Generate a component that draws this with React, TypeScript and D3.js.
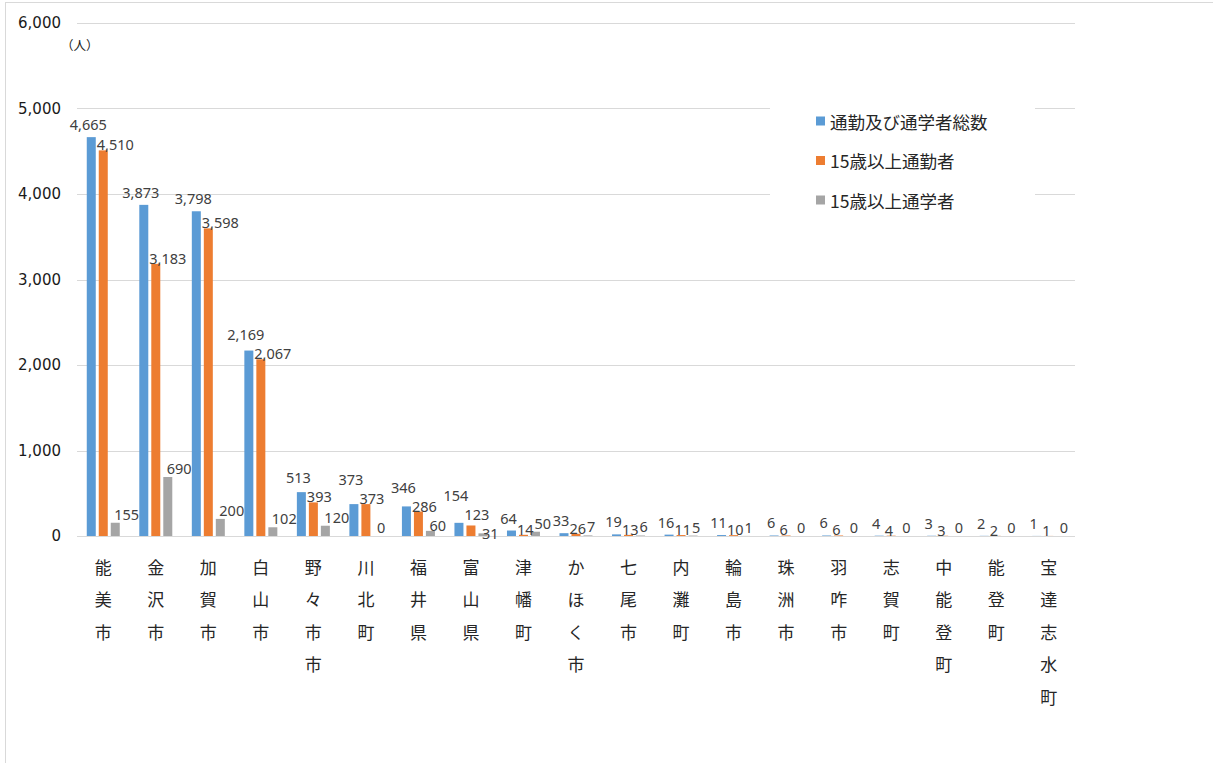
import React from 'react';
import * as d3 from 'd3';

// Commuters and students by destination municipality
const categories = [
  '能美市', '金沢市', '加賀市', '白山市', '野々市市', '川北町', '福井県', '富山県', '津幡町',
  'かほく市', '七尾市', '内灘町', '輪島市', '珠洲市', '羽咋市', '志賀町', '中能登町', '能登町', '宝達志水町',
];
const totalValues = [4665, 3873, 3798, 2169, 513, 373, 346, 154, 64, 33, 19, 16, 11, 6, 6, 4, 3, 2, 1];
const workerValues = [4510, 3183, 3598, 2067, 393, 373, 286, 123, 14, 26, 13, 11, 10, 6, 6, 4, 3, 2, 1];
const studentValues = [155, 690, 200, 102, 120, 0, 60, 31, 50, 7, 6, 5, 1, 0, 0, 0, 0, 0, 0];
const seriesNames = ['通勤及び通学者総数', '15歳以上通勤者', '15歳以上通学者'];
const seriesColors = ['#5b9bd5', '#ed7d31', '#a5a5a5'];
const yTicks = [0, 1000, 2000, 3000, 4000, 5000, 6000];
const unitLabel = '（人）';

const W = 1213;
const H = 763;
const plot = { left: 77, right: 1075, top: 23, bottom: 536 };
const tickFont = 'DejaVu Sans, Noto Sans, sans-serif';
const labelFont = '"Noto Sans", sans-serif';
const cjkFont = '"Noto Sans CJK JP", "Noto Sans", sans-serif';
const labelSize = 14.5;
const labelGap = 19; // minimum vertical distance between stacked labels
const lowestLabelY = 533;

type Label = { text: string; x0: number; x1: number; y: number; anchor: 'middle' | 'start'; ax: number };

// rough text width for the numeric labels
const textWidth = (s: string) =>
  Array.from(s).reduce((w, ch) => w + (ch === ',' ? 0.26 : 0.572) * labelSize, 0);

const overlaps = (a: Label, b: Label) =>
  a.x0 < b.x1 - 1 && b.x0 < a.x1 - 1 && Math.abs(a.y - b.y) < labelGap;

export default function App() {
  const seriesValues = [totalValues, workerValues, studentValues];

  const x = d3.scaleBand<string>().domain(categories).range([plot.left, plot.right]).padding(0);
  const groupWidth = 33;
  const inner = d3
    .scaleBand<number>()
    .domain([0, 1, 2])
    .range([0, groupWidth])
    .paddingInner(0.25)
    .paddingOuter(0);
  const y = d3.scaleLinear().domain([0, 6000]).range([plot.bottom, plot.top]);
  const fmt = d3.format(',');

  const barX = (ci: number, si: number) =>
    (x(categories[ci]) as number) + (x.bandwidth() - groupWidth) / 2 + (inner(si) as number);

  // value labels: start from each bar top, then stack upward where they collide
  const labels: Label[][] = categories.map((_, ci) => {
    const bw = inner.bandwidth();
    const make = (si: number): Label => {
      const v = seriesValues[si][ci];
      const text = fmt(v);
      const w = textWidth(text);
      const bx = barX(ci, si);
      const top = y(v);
      if (si === 0) {
        const cx = bx + bw / 2 - 3;
        return { text, x0: cx - w / 2, x1: cx + w / 2, y: top - 13, anchor: 'middle', ax: cx };
      }
      if (si === 1) {
        const sx = bx - 2;
        return { text, x0: sx, x1: sx + w, y: top - 6, anchor: 'start', ax: sx };
      }
      const sx = bx + 3.5;
      return { text, x0: sx, x1: sx + w, y: Math.min(top - 9, lowestLabelY), anchor: 'start', ax: sx };
    };
    const [b, o, g] = [make(0), make(1), make(2)];
    if (overlaps(o, g)) {
      g.y = Math.max(g.y, Math.min(lowestLabelY, o.y + labelGap));
      if (overlaps(o, g)) o.y = g.y - labelGap;
    }
    if (overlaps(b, o)) b.y = o.y - labelGap;
    if (overlaps(b, g)) b.y = g.y - labelGap;
    return [b, o, g];
  });

  const legend = { x: 770, y: 88, w: 265, h: 136 };

  return (
    <svg
      width={W}
      height={H}
      style={{ position: 'absolute', left: 0, top: 0, background: '#fff' }}
    >
      {/* chart frame */}
      <rect x={5.5} y={2.5} width={W + 20} height={H + 20} fill="#fff" stroke="#d9d9d9" strokeWidth={1} />

      {/* gridlines */}
      {yTicks.map((t) => (
        <line
          key={t}
          x1={plot.left}
          x2={plot.right}
          y1={Math.round(y(t)) + 0.5}
          y2={Math.round(y(t)) + 0.5}
          stroke="#d9d9d9"
          strokeWidth={1}
        />
      ))}

      {/* y tick labels */}
      {yTicks.map((t) => (
        <text
          key={t}
          x={61}
          y={y(t)}
          textAnchor="end"
          dominantBaseline="central"
          fontFamily={tickFont}
          fontSize={15}
          fill="#1a1a1a"
        >
          {fmt(t)}
        </text>
      ))}
      <text x={61} y={44} dominantBaseline="central" fontFamily={cjkFont} fontSize={12.5} fill="#1a1a1a">
        {unitLabel}
      </text>

      {/* bars */}
      {seriesValues.map((vals, si) =>
        vals.map((v, ci) => (
          <rect
            key={`${si}-${ci}`}
            x={barX(ci, si)}
            y={y(v)}
            width={inner.bandwidth()}
            height={plot.bottom - y(v)}
            fill={seriesColors[si]}
          />
        ))
      )}

      {/* data labels */}
      {labels.map((group, ci) =>
        group.map((l, si) => (
          <text
            key={`l-${si}-${ci}`}
            x={l.ax}
            y={l.y}
            textAnchor={l.anchor}
            dominantBaseline="central"
            fontFamily={labelFont}
            fontSize={labelSize}
            fill="#404040"
          >
            {l.text}
          </text>
        ))
      )}

      {/* category labels, one character per line */}
      {categories.map((c) => {
        const cx = (x(c) as number) + x.bandwidth() / 2;
        return (
          <text
            key={c}
            textAnchor="middle"
            fontFamily={cjkFont}
            fontSize={17}
            fill="#262626"
          >
            {Array.from(c).map((ch, k) => (
              <tspan key={k} x={cx} y={566 + k * 32.5} dominantBaseline="central">
                {ch}
              </tspan>
            ))}
          </text>
        );
      })}

      {/* legend */}
      <rect x={legend.x} y={legend.y} width={legend.w} height={legend.h} fill="#fff" />
      {seriesNames.map((name, si) => {
        const ly = 121 + si * 39.5;
        return (
          <g key={name}>
            <rect x={816} y={ly - 4.5} width={9} height={9} fill={seriesColors[si]} />
            <text
              x={830}
              y={ly}
              dominantBaseline="central"
              fontFamily={cjkFont}
              fontSize={17.5}
              fill="#262626"
            >
              {name}
            </text>
          </g>
        );
      })}
    </svg>
  );
}
